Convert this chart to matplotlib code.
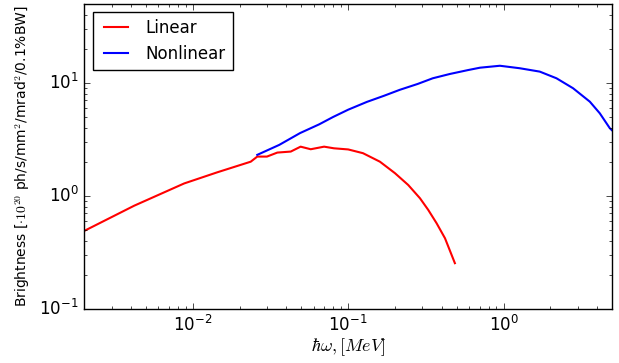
import matplotlib
matplotlib.use('Agg')
import matplotlib.pyplot as plt

# spectra
lin_x = [0.002, 0.0042, 0.0088, 0.0144, 0.0236, 0.026, 0.030, 0.035, 0.0427,
         0.0494, 0.0574, 0.070, 0.081, 0.1, 0.1245, 0.160, 0.200, 0.2434,
         0.2897, 0.3275, 0.3707, 0.4198, 0.486]
lin_y = [0.49, 0.82, 1.29, 1.62, 2.01, 2.23, 2.23, 2.42, 2.47,
         2.73, 2.59, 2.73, 2.64, 2.58, 2.39, 2.01, 1.59, 1.25,
         0.954, 0.752, 0.573, 0.422, 0.254]

nonlin_x = [0.026, 0.036, 0.049, 0.065, 0.08, 0.1, 0.132, 0.17, 0.215, 0.28,
            0.35, 0.45, 0.59, 0.705, 0.947, 1.27, 1.71, 2.19, 2.80, 3.59,
            4.16, 4.83, 5.0]
nonlin_y = [2.31, 2.83, 3.6, 4.3, 5.0, 5.8, 6.8, 7.7, 8.7, 9.8,
            11.0, 12.0, 13.0, 13.65, 14.2, 13.5, 12.6, 11.0, 8.98, 6.83,
            5.39, 3.97, 3.8]

plt.style.use('classic')
plt.rcParams['mathtext.fontset'] = 'cm'
plt.rcParams['figure.facecolor'] = 'white'
plt.rcParams['savefig.facecolor'] = 'white'

fig = plt.figure(figsize=(6.19, 3.63), dpi=100)
ax = fig.add_axes([0.136, 0.149, 0.853, 0.840])

ax.plot(lin_x, lin_y, color='r', linewidth=1.5, label='Linear')
ax.plot(nonlin_x, nonlin_y, color='b', linewidth=1.5, label='Nonlinear')

ax.set_xscale('log')
ax.set_yscale('log')
ax.set_xlim(0.002, 5)
ax.set_ylim(0.1, 50)

ax.set_xlabel(r'$\hbar\omega, [MeV]$', fontsize=13, labelpad=1)
ax.set_ylabel(r'Brightness [$\cdot 10^{20}$ ph/s/mm$^2$/mrad$^2$/0.1%BW]', fontsize=10)
ax.tick_params(axis='both', labelsize=12)

ax.legend(loc='upper left', fontsize=12)

fig.savefig('out.png', dpi=100)
